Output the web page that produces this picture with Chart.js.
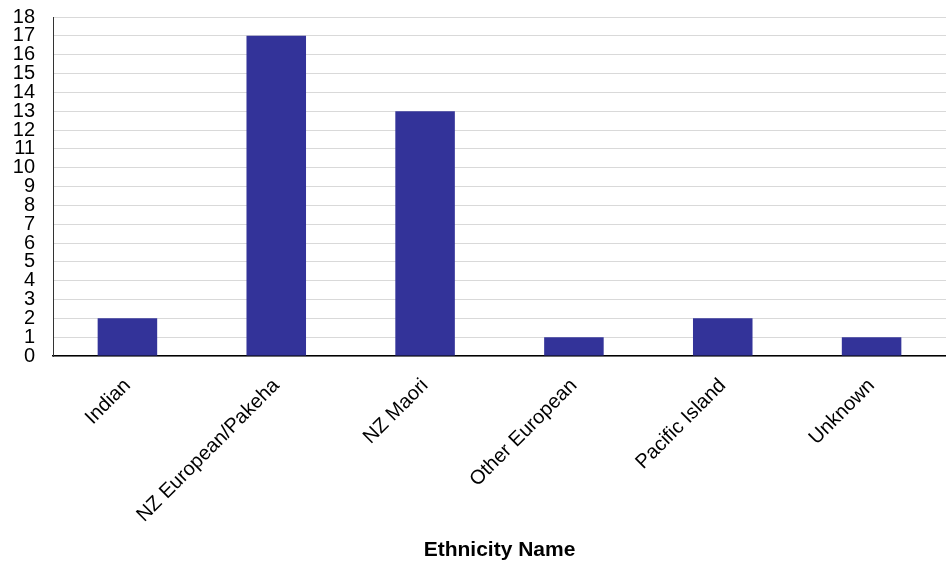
<!DOCTYPE html>
<html>
<head>
<meta charset="utf-8">
<script src="https://cdn.jsdelivr.net/npm/chart.js@4/dist/chart.umd.min.js"></script>
<style>
  html, body { margin: 0; padding: 0; background: #fff; }
  #wrap { width: 946px; height: 567px; position: relative; }
</style>
</head>
<body>
<div id="wrap"><canvas id="ethnicityChart"></canvas></div>
<script>
const ethnicities = ["Indian", "NZ European/Pakeha", "NZ Maori", "Other European", "Pacific Island", "Unknown"];
const counts = [2, 17, 13, 1, 2, 1];
const yTicks = [0, 1, 2, 3, 4, 5, 6, 7, 8, 9, 10, 11, 12, 13, 14, 15, 16, 17, 18];

const ctx = document.getElementById("ethnicityChart").getContext("2d");

new Chart(ctx, {
  type: "bar",
  data: {
    labels: ethnicities,
    datasets: [
      {
        label: "Count",
        data: counts,
        backgroundColor: "#333399",
        barPercentage: 0.4,
        categoryPercentage: 1.0,
      },
    ],
  },
  options: {
    responsive: true,
    maintainAspectRatio: false,
    animation: false,
    layout: { padding: { top: 17, right: 0, left: 0, bottom: 0 } },
    plugins: {
      legend: { display: false },
      tooltip: { enabled: false },
    },
    scales: {
      x: {
        grid: { display: false, drawTicks: false },
        border: { display: true, color: "#000", width: 1.5 },
        ticks: {
          color: "#000",
          font: { family: "Liberation Sans, Arial, sans-serif", size: 20 },
          minRotation: 45,
          maxRotation: 45,
          autoSkip: false,
          padding: 18,
        },
        title: {
          display: true,
          text: "Ethnicity Name",
          color: "#000",
          font: { family: "Liberation Sans, Arial, sans-serif", size: 21, weight: "bold" },
          padding: { top: 4, bottom: 4 },
        },
        afterFit: (scale) => {
          scale.height = 211;
        },
      },
      y: {
        min: 0,
        max: 18,
        afterBuildTicks: (scale) => {
          scale.ticks = yTicks.map((v) => ({ value: v }));
        },
        grid: { color: "#d9d9d9", lineWidth: 1, drawTicks: false },
        border: { display: true, color: "#333", width: 1 },
        ticks: {
          color: "#000",
          font: { family: "Liberation Sans, Arial, sans-serif", size: 20 },
          autoSkip: false,
          padding: 18,
        },
        afterFit: (scale) => {
          scale.width = 53;
          scale.paddingTop = 0;
          scale.paddingBottom = 0;
        },
      },
    },
  },
});
</script>
</body>
</html>
